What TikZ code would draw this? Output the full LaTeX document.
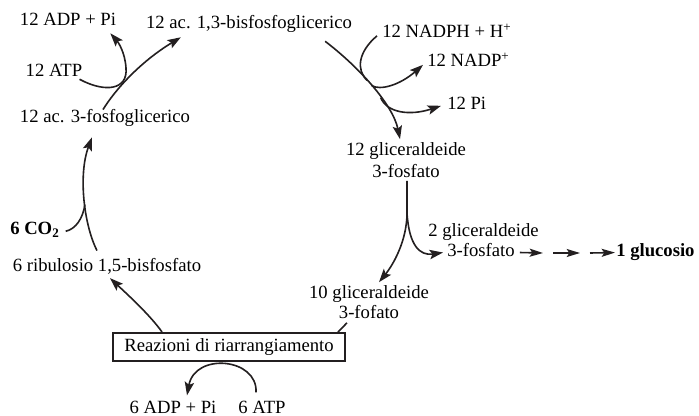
\documentclass[tikz,border=0pt]{standalone}
\usepackage{fontspec}
\setmainfont{Liberation Serif}
\usetikzlibrary{arrows.meta,calc}
\definecolor{ink}{RGB}{35,31,32}
\begin{document}
\begin{tikzpicture}[x=0.75pt,y=-0.75pt,
  txt/.style={inner sep=0pt, text=black, font=\fontsize{14}{16.5}\selectfont},
  two/.style={txt, align=center},
  bold/.style={txt, font=\fontsize{14}{16.5}\selectfont\bfseries},
  conn/.style={draw=ink, line width=1.2pt},
  arr/.style={conn, -{Stealth[length=10pt,width=7pt,inset=2pt]}},
  arrs/.style={conn, -{Stealth[length=10pt,width=6pt,inset=2pt]}},
  boxed/.style={txt, draw=ink, line width=1.4pt, minimum width=174pt, minimum height=21pt},
]
\useasboundingbox[fill=white] (0,0) rectangle (699,416);

% labels
\node[txt, anchor=base] (adp12) at (68,26) {12 ADP + Pi};
\node[txt, anchor=base] (bpg) at (249,29) {12 ac. 1,3-bisfosfoglicerico};
\node[txt, anchor=base] (atp12) at (54,77) {12 ATP};
\node[txt, anchor=base] (pga) at (105,123) {12 ac. 3-fosfoglicerico};
\node[txt, anchor=base west] (nadph) at (382,38) {12 NADPH + H\textsuperscript{+}};
\node[txt, anchor=base west] (nadp) at (427,67) {12 NADP\textsuperscript{+}};
\node[txt, anchor=base west] (pi12) at (447,110) {12 Pi};
\node[two] (gap12) at (406,160) {12 gliceraldeide\\3-fosfato};
\node[txt, anchor=base west] (gap2a) at (428,237) {2 gliceraldeide};
\node[txt, anchor=base west] (gap2) at (447,257) {3-fosfato};
\node[bold, anchor=base west] (glc) at (616,257) {1 glucosio};
\node[bold, anchor=base west] (co2) at (10,235) {6 CO\textsubscript{2}};
\node[txt, anchor=base] (rubp) at (107,272) {6 ribulosio 1,5-bisfosfato};
\node[two, font=\fontsize{14}{15}\selectfont] (gap10) at (369,302) {10 gliceraldeide\\3-fofato};
\node[boxed] (box) at (229,347) {Reazioni di riarrangiamento};
\node[txt, anchor=base] (adp6) at (173,413) {6 ADP + Pi};
\node[txt, anchor=base] (atp6) at (262,413) {6 ATP};

% 3-PGA -> 1,3-BPG with ATP/ADP
\draw[arr] ($(pga.north)+(-2,0)$) .. controls (115,90) and (140,62) .. ($(bpg.south west)+(35,4)$);
\draw[arr] ($(atp12.south east)+(-3,2)$) .. controls (105,93) and (128,90) .. (126,68)
  .. controls (125,52) and (118,42) .. ($(adp12.south east)+(-6,7)$);

% 1,3-BPG -> G3P with NADPH
\draw[arr] ($(bpg.south east)+(-27,8)$) .. controls (360,68) and (393,105) .. ($(gap12.north)+(-6,-3)$)
  coordinate[pos=0.43] (jn1) coordinate[pos=0.48] (jn2) coordinate[pos=0.6] (jn3);
\draw[conn] ($(nadph.west)+(-5,5)$) .. controls (358,52) and (356,70) .. (jn1);
\draw[arr] (jn2) .. controls (380,91) and (400,85) .. ($(nadp.west)+(-4,5)$);
\draw[arr] (jn3) .. controls (387,113) and (410,116) .. ($(pi12.west)+(-6,2)$);

% split of G3P
\coordinate (jsp) at ($(gap12.south)+(1,35)$);
\draw[arr] ($(gap12.south)+(1,3)$) -- (jsp) .. controls ($(jsp)+(0,28)$) and (393,265) .. ($(gap10.north)+(10,-3)$);
\draw[arr] (jsp) .. controls ($(jsp)+(2,33)$) and (420,256) .. ($(gap2.west)+(-4,2)$);

% towards glucose
\coordinate (g1) at ($(gap2.east)+(5,2)$);
\coordinate (g2) at (543,253);
\coordinate (g3) at (553,253);
\coordinate (g4) at (580,253);
\coordinate (g5) at (590,253);
\draw[arrs] (g1) -- (g2);
\draw[arrs] (g3) -- (g4);
\draw[arrs] (g5) -- ($(glc.west)+(-1,0)$);

% RuBP + CO2 -> 3-PGA
\draw[arr] ($(rubp.north)+(-10,-8)$) .. controls (84,225) and (78,175) .. ($(pga.south)+(-13,10)$)
  coordinate[pos=0.45] (jco);
\draw[conn] ($(co2.east)+(6,1)$) .. controls (76,229) and (83,218) .. (jco);

% rearrangement
\draw[arr] ($(box.north west)+(50,0)$) .. controls (150,315) and (127,294) .. ($(rubp.south)+(3,3)$);
\draw[conn] ($(box.north east)+(-8,0)$) -- ($(gap10.south)+(-22,4)$);
\draw[arr] ($(atp6.north)+(-6,-8)$) .. controls (258,358) and (195,352) .. ($(adp6.north)+(14,-5)$);
\end{tikzpicture}
\end{document}
